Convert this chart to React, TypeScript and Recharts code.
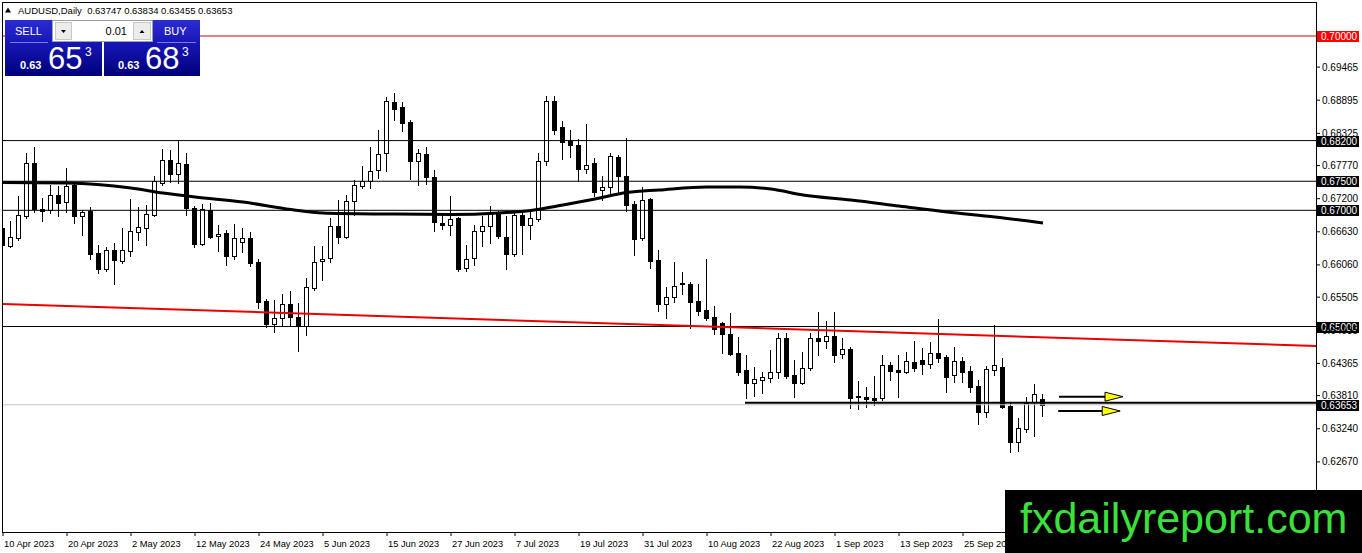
import React from 'react';
import { ComposedChart, Bar, Line, XAxis, YAxis, ReferenceLine, ReferenceDot } from 'recharts';

const W = 1362;
const H = 553;
const FONT = 'Liberation Sans, Arial, sans-serif';

// x-axis date labels (one every 8 daily bars)
const dateTicks = [0, 8, 16, 24, 32, 40, 48, 56, 64, 72, 80, 88, 96, 104, 112, 120];
const dateLabels = [
  '10 Apr 2023', '20 Apr 2023', '2 May 2023', '12 May 2023', '24 May 2023', '5 Jun 2023',
  '15 Jun 2023', '27 Jun 2023', '7 Jul 2023', '19 Jul 2023', '31 Jul 2023', '10 Aug 2023',
  '22 Aug 2023', '1 Sep 2023', '13 Sep 2023', '25 Sep 2023',
];

// price axis
const priceTicks = [0.69465, 0.68895, 0.68325, 0.6777, 0.672, 0.6663, 0.6606, 0.65505, 0.64935, 0.64365, 0.6381, 0.6324, 0.6267];
const Y_MIN = 0.61463;
const Y_MAX = 0.70568;
const X_MAX = 164.125;

// AUDUSD daily OHLC
const opens = [
  0.66695, 0.66391, 0.66518, 0.66907, 0.67809, 0.67022, 0.67005, 0.67258, 0.67138, 0.67435,
  0.66907, 0.66983, 0.6626, 0.6599, 0.66317, 0.66133, 0.66305, 0.66618, 0.667, 0.66919,
  0.67475, 0.67866, 0.6762, 0.67792, 0.67045, 0.66415, 0.67, 0.66558, 0.66605, 0.66219,
  0.6646, 0.66518, 0.66105, 0.65439, 0.65048, 0.65141, 0.65382, 0.65159, 0.65014, 0.65668,
  0.66122, 0.66179, 0.66724, 0.66535, 0.67155, 0.67413, 0.6751, 0.67689, 0.67981, 0.68864,
  0.68773, 0.6852, 0.67853, 0.67969, 0.67568, 0.66781, 0.66752, 0.66867, 0.66002, 0.66179,
  0.66638, 0.66724, 0.66936, 0.66535, 0.66254, 0.66914, 0.66752, 0.66855, 0.67854, 0.68887,
  0.68428, 0.68187, 0.68118, 0.67716, 0.67814, 0.67344, 0.67396, 0.67912, 0.67585, 0.67103,
  0.66518, 0.67194, 0.66145, 0.65382, 0.65513, 0.65731, 0.65731, 0.65439, 0.65284, 0.65159,
  0.65055, 0.64866, 0.64539, 0.64251, 0.64022, 0.64079, 0.64119, 0.64222, 0.64797, 0.64165,
  0.64022, 0.64278, 0.64807, 0.6475, 0.64836, 0.64522, 0.64613, 0.6381, 0.63782, 0.63764,
  0.63764, 0.64337, 0.64251, 0.64211, 0.64384, 0.64423, 0.64359, 0.64538, 0.6448, 0.64165,
  0.64406, 0.64234, 0.63976, 0.63523, 0.64251, 0.64298, 0.63637, 0.63007, 0.63231, 0.63695,
  0.63747,
];
const highs = [
  0.66833, 0.66821, 0.67246, 0.67981, 0.68095, 0.67207, 0.67435, 0.67418, 0.67723, 0.67464,
  0.67005, 0.67062, 0.66403, 0.66374, 0.66443, 0.6669, 0.67194, 0.67052, 0.67091, 0.6759,
  0.6805, 0.68038, 0.68211, 0.67981, 0.67079, 0.67103, 0.6712, 0.66747, 0.66661, 0.66759,
  0.6669, 0.66632, 0.66162, 0.65473, 0.65456, 0.65554, 0.65611, 0.65399, 0.6583, 0.66391,
  0.6638, 0.66867, 0.67182, 0.67268, 0.67526, 0.67758, 0.68084, 0.68387, 0.68945, 0.69019,
  0.68864, 0.68559, 0.6806, 0.68084, 0.67699, 0.66954, 0.67241, 0.66878, 0.66408, 0.66741,
  0.66897, 0.67068, 0.66993, 0.66897, 0.66993, 0.66983, 0.66983, 0.67986, 0.68962, 0.68962,
  0.68532, 0.68387, 0.68232, 0.68485, 0.679, 0.67585, 0.67986, 0.67957, 0.68244, 0.6716,
  0.67406, 0.67217, 0.66317, 0.65685, 0.66105, 0.65933, 0.65771, 0.65726, 0.66162, 0.65358,
  0.65083, 0.65227, 0.64824, 0.6451, 0.64308, 0.64212, 0.64596, 0.64883, 0.64883, 0.64423,
  0.64566, 0.64883, 0.65244, 0.65095, 0.65244, 0.64807, 0.64653, 0.64058, 0.63959, 0.64149,
  0.6451, 0.64394, 0.6451, 0.64566, 0.6475, 0.64625, 0.64738, 0.65129, 0.6451, 0.64653,
  0.6448, 0.64325, 0.64079, 0.64326, 0.65026, 0.64453, 0.63678, 0.6342, 0.63792, 0.64005,
  0.63834,
];
const lows = [
  0.66196, 0.66363, 0.66489, 0.66862, 0.66976, 0.66821, 0.66959, 0.66907, 0.66976, 0.66787,
  0.66582, 0.66157, 0.65921, 0.65955, 0.65731, 0.66088, 0.66213, 0.66489, 0.66403, 0.66902,
  0.67435, 0.67492, 0.67464, 0.66919, 0.66374, 0.66403, 0.66518, 0.663, 0.66059, 0.66162,
  0.66288, 0.66047, 0.65313, 0.64997, 0.64911, 0.65026, 0.65026, 0.64578, 0.6486, 0.65629,
  0.65795, 0.6611, 0.66437, 0.66523, 0.66924, 0.67384, 0.67384, 0.67563, 0.67681, 0.68559,
  0.6836, 0.67544, 0.6743, 0.67452, 0.66638, 0.66683, 0.6658, 0.65955, 0.65955, 0.66053,
  0.6638, 0.66437, 0.66523, 0.6599, 0.66208, 0.66254, 0.66512, 0.66811, 0.67785, 0.68313,
  0.67888, 0.67912, 0.6751, 0.67642, 0.67241, 0.67182, 0.67258, 0.67315, 0.66993, 0.6623,
  0.66489, 0.66012, 0.65266, 0.65152, 0.65427, 0.65554, 0.64969, 0.65198, 0.65112, 0.64866,
  0.64539, 0.6451, 0.64165, 0.63764, 0.63809, 0.6385, 0.6404, 0.64108, 0.64119, 0.63792,
  0.64005, 0.64251, 0.6451, 0.64625, 0.64384, 0.64463, 0.63592, 0.6358, 0.63619, 0.63649,
  0.63735, 0.64079, 0.63792, 0.64194, 0.64234, 0.64182, 0.64278, 0.64394, 0.63867, 0.64045,
  0.64045, 0.63878, 0.63317, 0.63447, 0.64165, 0.63602, 0.62845, 0.62857, 0.6319, 0.63121,
  0.63455,
];
const closes = [
  0.66403, 0.66535, 0.66919, 0.67809, 0.67022, 0.66988, 0.67258, 0.67131, 0.67418, 0.66907,
  0.66966, 0.66248, 0.6599, 0.66317, 0.66145, 0.66317, 0.66644, 0.66707, 0.66936, 0.67504,
  0.67866, 0.6762, 0.67809, 0.67034, 0.6642, 0.67022, 0.66546, 0.66593, 0.66219, 0.66518,
  0.66518, 0.66088, 0.65427, 0.65038, 0.65152, 0.65382, 0.65169, 0.65014, 0.65675, 0.66116,
  0.66167, 0.66724, 0.66535, 0.67165, 0.6743, 0.6751, 0.67672, 0.67969, 0.68876, 0.68749,
  0.68502, 0.67843, 0.67981, 0.67568, 0.66799, 0.66752, 0.66855, 0.6599, 0.66167, 0.66649,
  0.66724, 0.66953, 0.66552, 0.66254, 0.66914, 0.66752, 0.66867, 0.67854, 0.68887, 0.68387,
  0.6817, 0.68118, 0.67716, 0.67785, 0.67315, 0.67396, 0.67929, 0.67585, 0.67096, 0.66506,
  0.67177, 0.66127, 0.65382, 0.65503, 0.65697, 0.65743, 0.65427, 0.65266, 0.65141, 0.64957,
  0.64866, 0.64522, 0.64222, 0.64022, 0.64096, 0.64136, 0.64222, 0.64797, 0.64153, 0.64022,
  0.64278, 0.64807, 0.6475, 0.64836, 0.6451, 0.64613, 0.63775, 0.63782, 0.63747, 0.6374,
  0.64337, 0.64239, 0.64211, 0.64406, 0.64291, 0.64359, 0.64538, 0.64463, 0.64136, 0.64406,
  0.64211, 0.63964, 0.63523, 0.64269, 0.64337, 0.6362, 0.63007, 0.63248, 0.63689, 0.63833,
  0.63653,
];

// moving average, read at sampled bars
const maBars = [0, 8, 16, 20, 24, 30, 36, 40, 48, 56, 62, 66, 70, 74, 78, 82, 88, 92, 96, 100, 106, 112, 118, 124, 130];
const maValues = [
  0.67479, 0.6747, 0.67384, 0.67298, 0.67229, 0.67143, 0.67014, 0.66954, 0.66936, 0.66928,
  0.66954, 0.66997, 0.67091, 0.67195, 0.67306, 0.67349, 0.67401, 0.67401, 0.67367, 0.67263,
  0.67177, 0.67074, 0.66971, 0.66885, 0.66781,
];

// drawn objects
const blackLevels = [0.682, 0.675, 0.67, 0.65];
const redLevel = 0.7;
const bidPrice = 0.63653;
const supportLine = [{ x: 92.75, y: 0.63688 }, { x: X_MAX, y: 0.63688 }];
const trendLine = [{ x: 0, y: 0.65387 }, { x: X_MAX, y: 0.64664 }];
const arrowStarts = [132.0, 131.9];
const arrowEnds = [137.75, 137.4];
const arrowPrices = [0.63792, 0.63546];

const data = opens.map((o, i) => {
  const k = maBars.indexOf(i);
  return {
    i,
    o,
    h: highs[i],
    l: lows[i],
    c: closes[i],
    range: [lows[i], highs[i]],
    ma: k >= 0 ? maValues[k] : null,
  };
});

const Candle = (props: any) => {
  const { x, y, width, height, payload } = props;
  if (payload == null || height == null || isNaN(height)) return null;
  const { o, h, l, c } = payload;
  const k = h - l > 0 ? height / (h - l) : 0;
  const py = (p: number) => y + (h - p) * k;
  const cx = Math.floor(x + width / 2) + 0.5;
  const yH = Math.round(py(h));
  const yL = Math.round(py(l));
  const bTop = Math.round(py(Math.max(o, c)));
  const bBot = Math.round(py(Math.min(o, c)));
  const bull = c >= o;
  return (
    <g>
      <line x1={cx} x2={cx} y1={yH} y2={yL + 1} stroke="#000" strokeWidth={1} shapeRendering="crispEdges" />
      <rect
        x={cx - 2}
        y={bTop + 0.5}
        width={4}
        height={Math.max(bBot - bTop, 0)}
        fill={bull ? '#fff' : '#000'}
        stroke="#000"
        strokeWidth={1}
        shapeRendering="crispEdges"
      />
    </g>
  );
};

const XTick = (p: any) => {
  const idx = dateTicks.indexOf(p.payload.value);
  return (
    <text x={p.x + 1} y={p.y + 9} fontSize={9.3} fontFamily={FONT} fill="#000" textAnchor="start">
      {dateLabels[idx]}
    </text>
  );
};

const YTick = (p: any) => (
  <text x={p.x} y={p.y + 3.5} fontSize={10} fontFamily={FONT} fill="#000" textAnchor="start">
    {Number(p.payload.value).toFixed(5)}
  </text>
);

const BoxLabel = (props: any) => {
  const { viewBox, text, bg } = props;
  if (!viewBox) return null;
  const x = viewBox.x + viewBox.width + 1;
  const y = Math.round(viewBox.y);
  return (
    <g>
      <rect x={x} y={y - 5} width={42} height={11} fill={bg} />
      <text x={x + 4} y={y + 4} fontSize={10} fontFamily={FONT} fill="#fff">
        {text}
      </text>
    </g>
  );
};

const ArrowHead = (props: any) => {
  const { cx, cy } = props;
  if (cx == null) return null;
  return (
    <polygon
      points={`${cx},${cy - 4.5} ${cx + 18},${cy} ${cx},${cy + 4.5}`}
      fill="#ffff00"
      stroke="#000"
      strokeWidth={1}
    />
  );
};

const Overlay = () => (
  <svg
    width={W}
    height={H}
    style={{ position: 'absolute', left: 0, top: 0, pointerEvents: 'none' }}
  >
    <defs>
      <linearGradient id="blueG" x1="0" y1="0" x2="0" y2="1">
        <stop offset="0" stopColor="#2b2bd4" />
        <stop offset="0.45" stopColor="#1515b4" />
        <stop offset="1" stopColor="#00007a" />
      </linearGradient>
    </defs>
    {/* header */}
    <polygon points="5,12.5 8,7.5 11,12.5" fill="#000" />
    <text x={18} y={14} fontSize={9.5} fontFamily={FONT} fill="#000">
      AUDUSD,Daily&#160;&#160;0.63747 0.63834 0.63455 0.63653
    </text>
    {/* trade panel */}
    <rect x={5} y={20} width={97} height={56} fill="url(#blueG)" />
    <rect x={104} y={20} width={96} height={56} fill="url(#blueG)" />
    <line x1={10} x2={48} y1={42.5} y2={42.5} stroke="#7a7ae6" strokeWidth={1} />
    <line x1={157} x2={196} y1={42.5} y2={42.5} stroke="#7a7ae6" strokeWidth={1} />
    <text x={15} y={35} fontSize={11} fontFamily={FONT} fill="#fff">SELL</text>
    <text x={164} y={35} fontSize={11} fontFamily={FONT} fill="#fff">BUY</text>
    <rect x={52.5} y={20.5} width={100} height={21} fill="#fff" stroke="#a0a0a0" />
    <rect x={55.5} y={22.5} width={16} height={17} fill="#ececec" stroke="#c8c8c8" />
    <rect x={133.5} y={22.5} width={17} height={17} fill="#ececec" stroke="#c8c8c8" />
    <polygon points="61,30 66,30 63.5,33" fill="#000" />
    <polygon points="139.5,33 144.5,33 142,30" fill="#000" />
    <text x={127} y={35} fontSize={11} fontFamily={FONT} fill="#000" textAnchor="end">0.01</text>
    <text x={20} y={69} fontSize={11} fontWeight="bold" fontFamily={FONT} fill="#fff">0.63</text>
    <text x={48} y={69} fontSize={31} fontFamily={FONT} fill="#fff">65</text>
    <text x={85} y={56} fontSize={12} fontFamily={FONT} fill="#fff">3</text>
    <text x={118} y={69} fontSize={11} fontWeight="bold" fontFamily={FONT} fill="#fff">0.63</text>
    <text x={145} y={69} fontSize={31} fontFamily={FONT} fill="#fff">68</text>
    <text x={182} y={56} fontSize={12} fontFamily={FONT} fill="#fff">3</text>
    {/* watermark */}
    <rect x={1005} y={490} width={357} height={63} fill="#000" />
    <text x={1020} y={533} fontSize={43} fontFamily={FONT} fill="#3be03b">fxdailyreport.com</text>
  </svg>
);

export default function App() {
  return (
    <div style={{ position: 'absolute', left: 0, top: 0, width: W, height: H, background: '#fff', overflow: 'hidden' }}>
      <ComposedChart width={W} height={H} data={data} margin={{ top: 3, right: 0, bottom: 0, left: 3 }}>
        <XAxis
          type="number"
          dataKey="i"
          domain={[0, X_MAX]}
          allowDataOverflow
          ticks={dateTicks}
          interval={0}
          tick={<XTick />}
          tickSize={4}
          tickLine={{ stroke: '#000' }}
          axisLine={false}
          height={21}
        />
        <YAxis
          orientation="right"
          type="number"
          domain={[Y_MIN, Y_MAX]}
          allowDataOverflow
          ticks={priceTicks}
          interval={0}
          tick={<YTick />}
          tickSize={4}
          tickLine={{ stroke: '#000' }}
          axisLine={false}
          width={46}
        />
        <Bar dataKey="range" barSize={5} shape={(p: any) => <Candle {...p} />} isAnimationActive={false} />
        <Line
          dataKey="ma"
          type="monotone"
          stroke="#000"
          strokeWidth={3}
          dot={false}
          connectNulls
          isAnimationActive={false}
        />
        <ReferenceLine y={bidPrice} stroke="#c0c0c0" label={<BoxLabel text="0.63653" bg="#000" />} />
        {blackLevels.map((lv) => (
          <ReferenceLine key={lv} y={lv} stroke="#000" label={<BoxLabel text={lv.toFixed(5)} bg="#000" />} />
        ))}
        <ReferenceLine y={redLevel} stroke="#d00000" label={<BoxLabel text="0.70000" bg="#ff0000" />} />
        <ReferenceLine segment={trendLine} stroke="#ee0000" strokeWidth={2} />
        <ReferenceLine segment={supportLine} stroke="#000" strokeWidth={2} />
        {arrowPrices.map((pr, k) => (
          <ReferenceLine
            key={'al' + k}
            segment={[{ x: arrowStarts[k], y: pr }, { x: arrowEnds[k], y: pr }]}
            stroke="#000"
            strokeWidth={2}
          />
        ))}
        {arrowPrices.map((pr, k) => (
          <ReferenceDot key={'ah' + k} x={arrowEnds[k]} y={pr} r={2} shape={(p: any) => <ArrowHead {...p} />} />
        ))}
      </ComposedChart>
      <div
        style={{
          position: 'absolute',
          left: 2,
          top: 2,
          width: 1315,
          height: 531,
          boxSizing: 'border-box',
          borderLeft: '1px solid #000',
          borderTop: '1px solid #000',
          borderRight: '1px solid #000',
          borderBottom: '1px solid #000',
          pointerEvents: 'none',
        }}
      />
      <Overlay />
    </div>
  );
}
